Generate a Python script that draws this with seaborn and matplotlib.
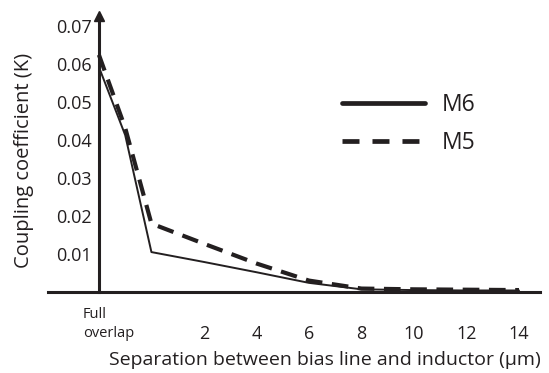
import pandas as pd
import matplotlib
matplotlib.use("Agg")
import matplotlib.pyplot as plt
import seaborn as sns
from matplotlib.lines import Line2D

# ================= DATOS =================
# posición -2 = "Full overlap" (eje vertical), luego separación en µm
separacion = [-2, -1, 0, 2, 4, 6, 8, 10, 12, 14]
k_m6 = [0.0592, 0.0413, 0.0105, 0.0079, 0.0052, 0.0024, 0.0007, 0.0005, 0.0004, 0.0004]
k_m5 = [0.0624, 0.0432, 0.0180, 0.0127, 0.0075, 0.0030, 0.0009, 0.0007, 0.0006, 0.0005]

xtick_pos = [2, 4, 6, 8, 10, 12, 14]
xtick_labels = ["2", "4", "6", "8", "10", "12", "14"]
ytick_pos = [0.01, 0.02, 0.03, 0.04, 0.05, 0.06, 0.07]

df = pd.concat([
    pd.DataFrame({"sep": separacion, "k": k_m6, "metal": "M6"}),
    pd.DataFrame({"sep": separacion, "k": k_m5, "metal": "M5"}),
], ignore_index=True)

# ================= ESTILO =================
sns.set_style("white")
plt.rcParams["font.family"] = ["Open Sans", "DejaVu Sans"]
ink = "#231f20"

fig = plt.figure(figsize=(5.49, 3.73), dpi=100)
ax = fig.add_axes([0.0874, 0.2172, 0.8962, 0.7437])

sns.lineplot(data=df, x="sep", y="k", style="metal", size="metal",
             sizes={"M6": 1.4, "M5": 3.0},
             dashes={"M6": "", "M5": (4, 2.3)},
             color=ink, ax=ax, legend=False, sort=False)

ax.set_xlim(-3.94, 14.8)
ax.set_ylim(0, 0.073)

# ejes: y en "Full overlap", x a lo ancho
for s in ["top", "right"]:
    ax.spines[s].set_visible(False)
ax.spines["left"].set_position(("data", -2))
for s in ["left", "bottom"]:
    ax.spines[s].set_color(ink)
    ax.spines[s].set_linewidth(2.2)
ax.plot([-2], [0.0725], marker="^", markersize=6.5, color=ink, clip_on=False)

ax.set_yticks(ytick_pos)
ax.set_yticklabels([f"{v:.2f}" for v in ytick_pos])
ax.set_xticks(xtick_pos)
ax.set_xticklabels(xtick_labels)
ax.tick_params(axis="both", length=0, labelsize=13, colors=ink)
ax.tick_params(axis="x", pad=23.5)
ax.tick_params(axis="y", pad=5)

ax.text(-2.62, -0.0085, "Full\noverlap", fontsize=10.5, color=ink,
        ha="left", va="center", linespacing=1.4)

ax.set_xlabel("Separation between bias line and inductor (µm)", fontsize=14,
              color=ink)
ax.xaxis.set_label_coords(0.562, -0.213)
ax.set_ylabel("Coupling coefficient (K)", fontsize=14.5, color=ink)
ax.yaxis.set_label_coords(-0.028, 0.476)

# leyenda
handles = [Line2D([], [], color=ink, lw=3.4),
           Line2D([], [], color=ink, lw=3.4, dashes=(3.6, 2.75))]
ax.legend(handles, ["M6", "M5"], loc="upper left", bbox_to_anchor=(0.556, 0.79),
          frameon=False, fontsize=16.5, handlelength=3.6, handletextpad=0.75,
          labelspacing=0.6, labelcolor=ink)

fig.savefig("out.png", dpi=100)
